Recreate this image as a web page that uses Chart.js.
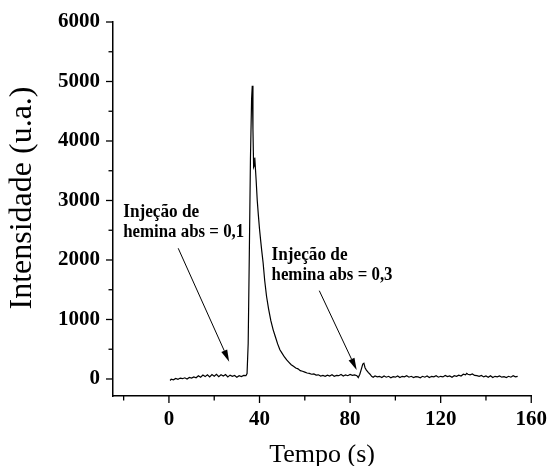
<!DOCTYPE html>
<html>
<head>
<meta charset="utf-8">
<script src="https://cdn.jsdelivr.net/npm/chart.js@4.4.1/dist/chart.umd.min.js"></script>
<style>
  html, body { margin: 0; padding: 0; background: #fff; }
  #wrap { width: 551px; height: 466px; }
</style>
</head>
<body>
<div id="wrap"><canvas id="chart"></canvas></div>
<script>
// time (s)
var tempo = [0.5, 1, 2, 3, 4, 5, 6, 7, 8, 9, 10, 11, 12, 13, 14, 15, 16, 17, 18, 19, 20,
  21, 22, 23, 24, 25, 26, 27, 28, 29, 30, 31, 32, 33, 34, 34.5, 35, 35.5, 36, 36.5,
  36.8, 37.1, 37.4, 37.6, 37.9, 38.5, 39, 39.5, 40, 40.5, 41, 41.6, 42.3, 43.1, 44, 45,
  46, 47, 48, 49, 50, 51, 52, 53, 54, 55, 56, 57, 58, 59, 60, 61, 62, 63, 64, 65, 66,
  67, 68, 69, 70, 71, 72, 73, 74, 75, 76, 77, 78, 79, 80, 81, 82, 83, 83.6, 84.3, 85,
  85.6, 86.1, 86.6, 87.2, 88, 88.8, 89.5, 90.2, 91, 92, 93, 94, 95, 96, 97, 98, 99, 100,
  101, 102, 103, 104, 105, 106, 107, 108, 109, 110, 111, 112, 113, 114, 115, 116, 117,
  118, 119, 120, 121, 122, 123, 124, 125, 126, 127, 128, 129, 130, 131, 131.5, 132, 133,
  134, 135, 136, 137, 138, 139, 140, 141, 142, 143, 144, 145, 146, 147, 148, 149, 150,
  151, 152, 153, 154];

// intensity (u.a.)
var intensidade = [-25, -5, -15, 10, -5, 15, 5, 20, 0, 25, 15, 35, 20, 55, 30, 65, 40, 70, 35, 75, 45,
  80, 40, 70, 50, 75, 35, 65, 45, 60, 30, 55, 40, 60, 55, 90, 600, 2100, 3700, 4700,
  4930, 4200, 3560, 3580, 3720, 3350, 3000, 2750, 2520, 2330, 2150, 1950, 1650, 1390, 1180, 980,
  830, 710, 590, 490, 430, 370, 320, 280, 240, 215, 185, 170, 140, 130, 115, 100, 95, 80, 85, 65, 70,
  50, 60, 45, 65, 50, 70, 45, 60, 55, 75, 50, 70, 55, 75, 60, 70, 55, 25, 80, 170,
  250, 265, 190, 150, 110, 80, 45, 30, 50, 35, 45, 25, 50, 30, 45, 20, 40, 30,
  50, 25, 45, 35, 55, 30, 45, 25, 40, 35, 20, 45, 30, 50, 25, 45, 35,
  55, 30, 45, 35, 60, 40, 50, 30, 55, 45, 65, 50, 80, 70, 95, 80, 70,
  85, 60, 55, 45, 60, 35, 50, 30, 55, 25, 45, 35, 50, 30, 40, 25, 45,
  30, 55, 35, 45];

// tick positions; only the labelled ones get numbers and long marks
var xTicks = [-20, 0, 20, 40, 60, 80, 100, 120, 140, 160];
var xTicksLabelled = [0, 40, 80, 120, 160];
var yTicks = [0, 500, 1000, 1500, 2000, 2500, 3000, 3500, 4000, 4500, 5000, 5500, 6000];
var yTicksLabelled = [0, 1000, 2000, 3000, 4000, 5000, 6000];

// annotations: text lines, text anchor, arrow start and tip (data units)
var notaLinhas = [["Injeção de", "hemina abs = 0,1"], ["Injeção de", "hemina abs = 0,3"]];
var notaTexto = [[-20.2, 2728], [45.3, 2000]];
var notaSeta = [[[4.1, 2197], [26.6, 291]], [[66.4, 1484], [82.9, 151]]];

var serif = "'Liberation Serif', 'Times New Roman', serif";

var extras = {
  id: 'extras',
  afterDraw: function(chart) {
    var ctx = chart.ctx;
    var xs = chart.scales.x, ys = chart.scales.y;
    ctx.save();
    ctx.strokeStyle = '#000';
    ctx.fillStyle = '#000';
    ctx.lineWidth = 1.3;

    // tick marks, major longer than minor
    xs.ticks.forEach(function(t) {
      var px = xs.getPixelForValue(t.value);
      var len = xTicksLabelled.indexOf(t.value) >= 0 ? 7 : 4.5;
      ctx.beginPath();
      ctx.moveTo(px, xs.top);
      ctx.lineTo(px, xs.top + len);
      ctx.stroke();
    });
    ys.ticks.forEach(function(t) {
      var py = ys.getPixelForValue(t.value);
      var len = yTicksLabelled.indexOf(t.value) >= 0 ? 7 : 4.5;
      ctx.beginPath();
      ctx.moveTo(ys.right, py);
      ctx.lineTo(ys.right - len, py);
      ctx.stroke();
    });

    // annotation text
    ctx.font = 'bold 18px ' + serif;
    ctx.textAlign = 'left';
    ctx.textBaseline = 'alphabetic';
    notaLinhas.forEach(function(linhas, i) {
      var x = xs.getPixelForValue(notaTexto[i][0]);
      var y = ys.getPixelForValue(notaTexto[i][1]);
      ctx.fillText(linhas[0], x, y, 76);
      ctx.fillText(linhas[1], x, y + 20, 121);
    });

    // arrows
    ctx.lineWidth = 1;
    notaSeta.forEach(function(s) {
      var x0 = xs.getPixelForValue(s[0][0]), y0 = ys.getPixelForValue(s[0][1]);
      var x1 = xs.getPixelForValue(s[1][0]), y1 = ys.getPixelForValue(s[1][1]);
      var ang = Math.atan2(y1 - y0, x1 - x0);
      var hl = 12, hw = 3.2;
      var bx = x1 - hl * Math.cos(ang), by = y1 - hl * Math.sin(ang);
      ctx.beginPath();
      ctx.moveTo(x0, y0);
      ctx.lineTo(bx, by);
      ctx.stroke();
      ctx.beginPath();
      ctx.moveTo(x1, y1);
      ctx.lineTo(bx + hw * Math.sin(ang), by - hw * Math.cos(ang));
      ctx.lineTo(bx - hw * Math.sin(ang), by + hw * Math.cos(ang));
      ctx.closePath();
      ctx.fill();
    });

    // y axis title
    ctx.translate(22.5, 198);
    ctx.rotate(-Math.PI / 2);
    ctx.font = '32px ' + serif;
    ctx.textAlign = 'center';
    ctx.textBaseline = 'middle';
    ctx.fillText('Intensidade (u.a.)', 0, 0);
    ctx.restore();
  }
};

var pontos = tempo.map(function(t, i) { return {x: t, y: intensidade[i]}; });

new Chart(document.getElementById('chart'), {
  type: 'line',
  data: {
    datasets: [{
      data: pontos,
      borderColor: '#000',
      borderWidth: 1.2,
      pointRadius: 0,
      tension: 0,
      fill: false
    }]
  },
  options: {
    responsive: true,
    maintainAspectRatio: false,
    animation: false,
    layout: { padding: { left: 0, right: 19, top: 22, bottom: 0 } },
    plugins: { legend: { display: false }, tooltip: { enabled: false } },
    scales: {
      x: {
        type: 'linear',
        min: -24.7,
        max: 160,
        afterBuildTicks: function(s) { s.ticks = xTicks.map(function(v) { return {value: v}; }); },
        afterFit: function(s) { s.height = 70; },
        border: { color: '#000', width: 1.5 },
        grid: { drawOnChartArea: false, tickLength: 7, tickColor: 'rgba(0,0,0,0)' },
        ticks: {
          autoSkip: false,
          maxRotation: 0,
          padding: 4,
          color: '#000',
          font: { family: serif, size: 21, weight: 'bold' },
          callback: function(v) { return xTicksLabelled.indexOf(v) >= 0 ? String(v) : ''; }
        },
        title: {
          display: true,
          text: 'Tempo (s)',
          color: '#000',
          font: { family: serif, size: 26, lineHeight: 1 },
          padding: { top: 0, bottom: -2 }
        }
      },
      y: {
        type: 'linear',
        min: -286,
        max: 6000,
        afterBuildTicks: function(s) { s.ticks = yTicks.map(function(v) { return {value: v}; }); },
        afterFit: function(s) { s.width = 113; },
        border: { color: '#000', width: 1.5 },
        grid: { drawOnChartArea: false, tickLength: 7, tickColor: 'rgba(0,0,0,0)' },
        ticks: {
          autoSkip: false,
          padding: 6,
          color: '#000',
          font: { family: serif, size: 21, weight: 'bold' },
          callback: function(v) { return yTicksLabelled.indexOf(v) >= 0 ? String(v) : ''; }
        }
      }
    }
  },
  plugins: [extras]
});
</script>
</body>
</html>
